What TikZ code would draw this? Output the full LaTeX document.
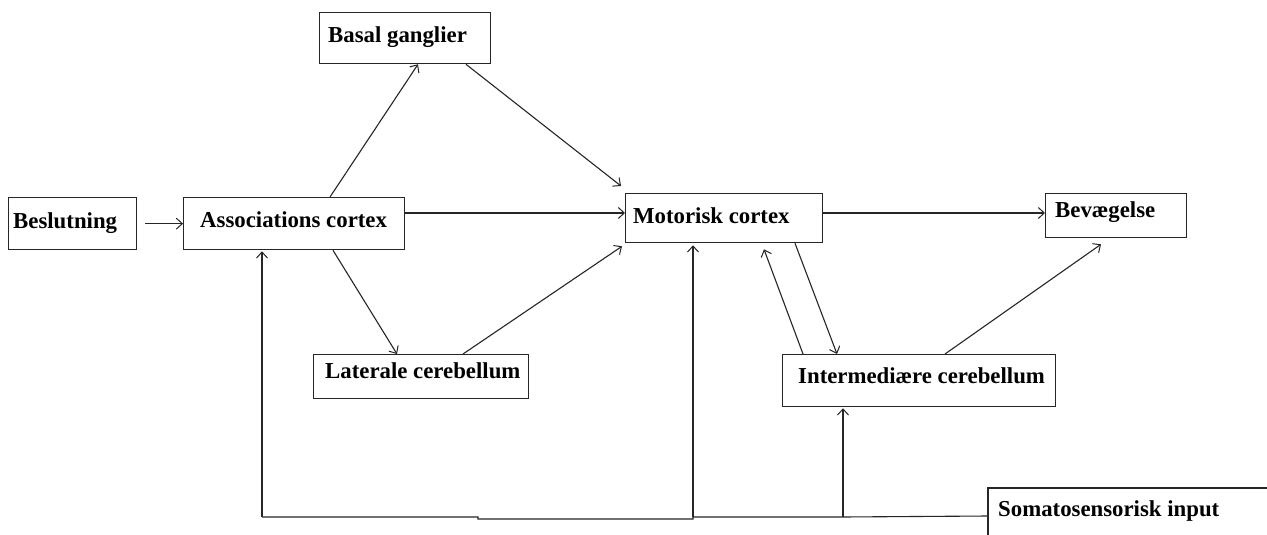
\documentclass[tikz,border=0pt]{standalone}
\usepackage{fontspec}
\setmainfont{Liberation Serif}
\usetikzlibrary{arrows.meta}
\begin{document}
\begin{tikzpicture}[x=1pt,y=-1pt,
  box/.style={draw=black!85,line width=1.3pt,anchor=north west,inner sep=0pt},
  lbl/.style={anchor=base west,inner sep=0pt,font=\bfseries\fontsize{22.8}{25}\selectfont},
  conn/.style={draw=black!85,line width=1.1pt},
  arr/.style={conn,-{Straight Barb[length=6pt,width=11pt,line width=1pt]}}]
\useasboundingbox[fill=white] (0,0) rectangle (1267,535);
% boxes
\node[box,minimum width=128pt,minimum height=52pt] (bes) at (8,197) {};
\node[box,minimum width=221pt,minimum height=52pt] (assoc) at (183,197) {};
\node[box,minimum width=171pt,minimum height=51pt] (basal) at (319,12) {};
\node[box,minimum width=197pt,minimum height=49pt] (motor) at (625,193) {};
\node[box,minimum width=141pt,minimum height=44pt] (bev) at (1045,193) {};
\node[box,minimum width=215pt,minimum height=44pt] (lat) at (313,354) {};
\node[box,minimum width=273pt,minimum height=52pt] (inter) at (782,354) {};
\coordinate (soma) at (988,516);
\draw[conn,line width=1.3pt] (988,535) -- (988,488) -- (1267,488);
% labels
\node[lbl] (tbes) at (13,228) {Beslutning};
\node[lbl] (tassoc) at (200,227) {Associations cortex};
\node[lbl] (tbasal) at (328,43) {Basal ganglier};
\node[lbl] (tmotor) at (633,223) {Motorisk cortex};
\node[lbl] (tbev) at (1055,217) {Bevægelse};
\node[lbl] (tlat) at (325,378) {Laterale cerebellum};
\node[lbl] (tinter) at (798,383) {Intermediære cerebellum};
\node[lbl] (tsoma) at (998,516) {Somatosensorisk input};
% connectors
\draw[arr] (145,0 |- bes.east) -- (assoc.west);
\draw[arr] (assoc.east |- 0,213) -- (motor.west |- 0,213);
\draw[arr] (330,0 |- assoc.north) -- (418,0 |- basal.south);
\draw[arr] (466,0 |- basal.south) -- ([shift={(-4,-7)}]motor.north west);
\draw[arr] (333,0 |- assoc.south) -- (397,0 |- lat.north);
\draw[arr] (463,0 |- lat.north) -- ([shift={(-3,3)}]motor.south west);
\draw[arr] (motor.east |- 0,213) -- (bev.west |- 0,213);
\draw[arr] (945,0 |- inter.north) -- ([yshift=-6pt]1101,0 |- bev.south);
\draw[arr] (795,0 |- motor.south) -- (837,0 |- inter.north);
\draw[arr] (803,0 |- inter.north) -- ([yshift=-6pt]764,0 |- motor.south);
% feedback
\coordinate (j1) at (693,517);
\coordinate (j2) at (843,517);
\coordinate (j0) at (262,517);
\draw[conn] (soma) -- (j2) -- (j1) -- (693,519) -- (478,519) -- (478,517) -- (j0);
\draw[arr] (j0) -- ([yshift=-1pt]262,0 |- assoc.south);
\draw[arr] (j1) -- ([yshift=-2pt]693,0 |- motor.south);
\draw[arr] (j2) -- ([yshift=-1pt]843,0 |- inter.south);
\end{tikzpicture}
\end{document}
